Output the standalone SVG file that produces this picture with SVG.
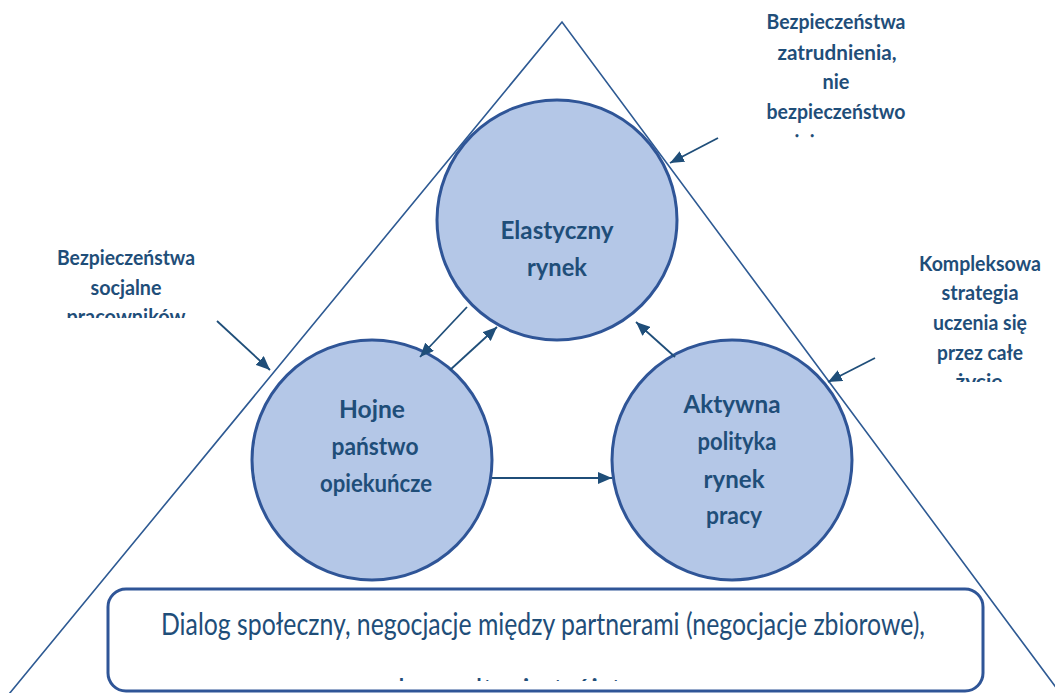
<svg xmlns="http://www.w3.org/2000/svg" width="1055" height="693" viewBox="0 0 1055 693">
<style>
.tri{fill:none;stroke:#2e5a93;stroke-width:1.6}
.circ{fill:#b4c7e7;stroke:#2f5597;stroke-width:3}
.ct{font-family:Lato,"Liberation Sans",sans-serif;font-weight:bold;font-size:25px;fill:#1f4e79;text-anchor:middle}
.lb{font-family:Lato,"Liberation Sans",sans-serif;font-weight:bold;font-size:20px;fill:#1f4e79;text-anchor:middle}
.bx{fill:#fff;stroke:#2f5597;stroke-width:3}
.bt{font-family:Lato,"Liberation Sans",sans-serif;font-size:30px;fill:#1f4e79;text-anchor:middle}
.conn line{stroke:#1f4e79;stroke-width:1.8;marker-end:url(#ah)}
</style>
<defs>
<marker id="ah" viewBox="0 0 14 12" refX="14" refY="6" markerWidth="14" markerHeight="12" markerUnits="userSpaceOnUse" orient="auto"><path d="M0,0 L14,6 L0,12 z" fill="#1f4e79"/></marker>
<clipPath id="clipTR"><rect x="700" y="0" width="300" height="138"/></clipPath>
<clipPath id="clipL"><rect x="0" y="230" width="260" height="88"/></clipPath>
<clipPath id="clipR"><rect x="880" y="240" width="175" height="142"/></clipPath>
<clipPath id="clipB"><rect x="110" y="650" width="870" height="31"/></clipPath>
</defs>
<rect width="1055" height="693" fill="#fff"/>
<g id="triangle"><path class="tri" d="M0,705 L562,22 L1069,705"/></g>
<g id="node-elastyczny">
<circle class="circ" cx="557" cy="220" r="120"/>
<text class="ct" x="557" y="239" textLength="113" lengthAdjust="spacingAndGlyphs">Elastyczny</text>
<text class="ct" x="557" y="276" textLength="60" lengthAdjust="spacingAndGlyphs">rynek</text>
</g>
<g id="node-hojne">
<circle class="circ" cx="372" cy="460" r="120"/>
<text class="ct" x="372" y="418" textLength="66" lengthAdjust="spacingAndGlyphs">Hojne</text>
<text class="ct" x="375" y="455" textLength="87" lengthAdjust="spacingAndGlyphs">państwo</text>
<text class="ct" x="376" y="492" textLength="112" lengthAdjust="spacingAndGlyphs">opiekuńcze</text>
</g>
<g id="node-aktywna">
<circle class="circ" cx="732" cy="460" r="120"/>
<text class="ct" x="732" y="413" textLength="97" lengthAdjust="spacingAndGlyphs">Aktywna</text>
<text class="ct" x="737" y="450" textLength="79" lengthAdjust="spacingAndGlyphs">polityka</text>
<text class="ct" x="734" y="488" textLength="61" lengthAdjust="spacingAndGlyphs">rynek</text>
<text class="ct" x="734" y="524" textLength="56" lengthAdjust="spacingAndGlyphs">pracy</text>
</g>
<g id="label-zatrudnienie" clip-path="url(#clipTR)">
<text class="lb" x="836" y="29" textLength="139" lengthAdjust="spacingAndGlyphs">Bezpieczeństwa</text>
<text class="lb" x="837" y="60" textLength="119" lengthAdjust="spacingAndGlyphs">zatrudnienia,</text>
<text class="lb" x="836" y="89" textLength="27" lengthAdjust="spacingAndGlyphs">nie</text>
<text class="lb" x="836" y="119" textLength="139" lengthAdjust="spacingAndGlyphs">bezpieczeństwo</text>
<text class="lb" x="836" y="150" textLength="115" lengthAdjust="spacingAndGlyphs">miejsca pracy</text>
</g>
<g id="label-socjalne" clip-path="url(#clipL)">
<text class="lb" x="126" y="265" textLength="138" lengthAdjust="spacingAndGlyphs">Bezpieczeństwa</text>
<text class="lb" x="126" y="295" textLength="71" lengthAdjust="spacingAndGlyphs">socjalne</text>
<text class="lb" x="126" y="324" textLength="119" lengthAdjust="spacingAndGlyphs">pracowników</text>
</g>
<g id="label-uczenie" clip-path="url(#clipR)">
<text class="lb" x="980" y="271" textLength="122" lengthAdjust="spacingAndGlyphs">Kompleksowa</text>
<text class="lb" x="980" y="300" textLength="77" lengthAdjust="spacingAndGlyphs">strategia</text>
<text class="lb" x="980" y="330" textLength="94" lengthAdjust="spacingAndGlyphs">uczenia się</text>
<text class="lb" x="980" y="360" textLength="86" lengthAdjust="spacingAndGlyphs">przez całe</text>
<text class="lb" x="979" y="389" textLength="47" lengthAdjust="spacingAndGlyphs">życie</text>
</g>
<g id="node-dialog">
<rect class="bx" x="108" y="589" width="875" height="102" rx="18"/>
<text class="bt" x="543" y="635" textLength="764" lengthAdjust="spacingAndGlyphs">Dialog społeczny, negocjacje między partnerami (negocjacje zbiorowe),</text>
<g clip-path="url(#clipB)">
<text class="bt" x="548" y="701" textLength="300" lengthAdjust="spacingAndGlyphs">konsultacje trójstronne</text>
</g>
</g>
<g id="connectors" class="conn">
<line x1="467" y1="307" x2="420" y2="357"/>
<line x1="450" y1="370" x2="497" y2="327"/>
<line x1="675" y1="357" x2="636" y2="322"/>
<line x1="492" y1="478" x2="612" y2="478"/>
<line x1="217" y1="321" x2="270" y2="370"/>
<line x1="718" y1="138" x2="670" y2="163"/>
<line x1="875" y1="358" x2="828" y2="382"/>
</g>
</svg>
